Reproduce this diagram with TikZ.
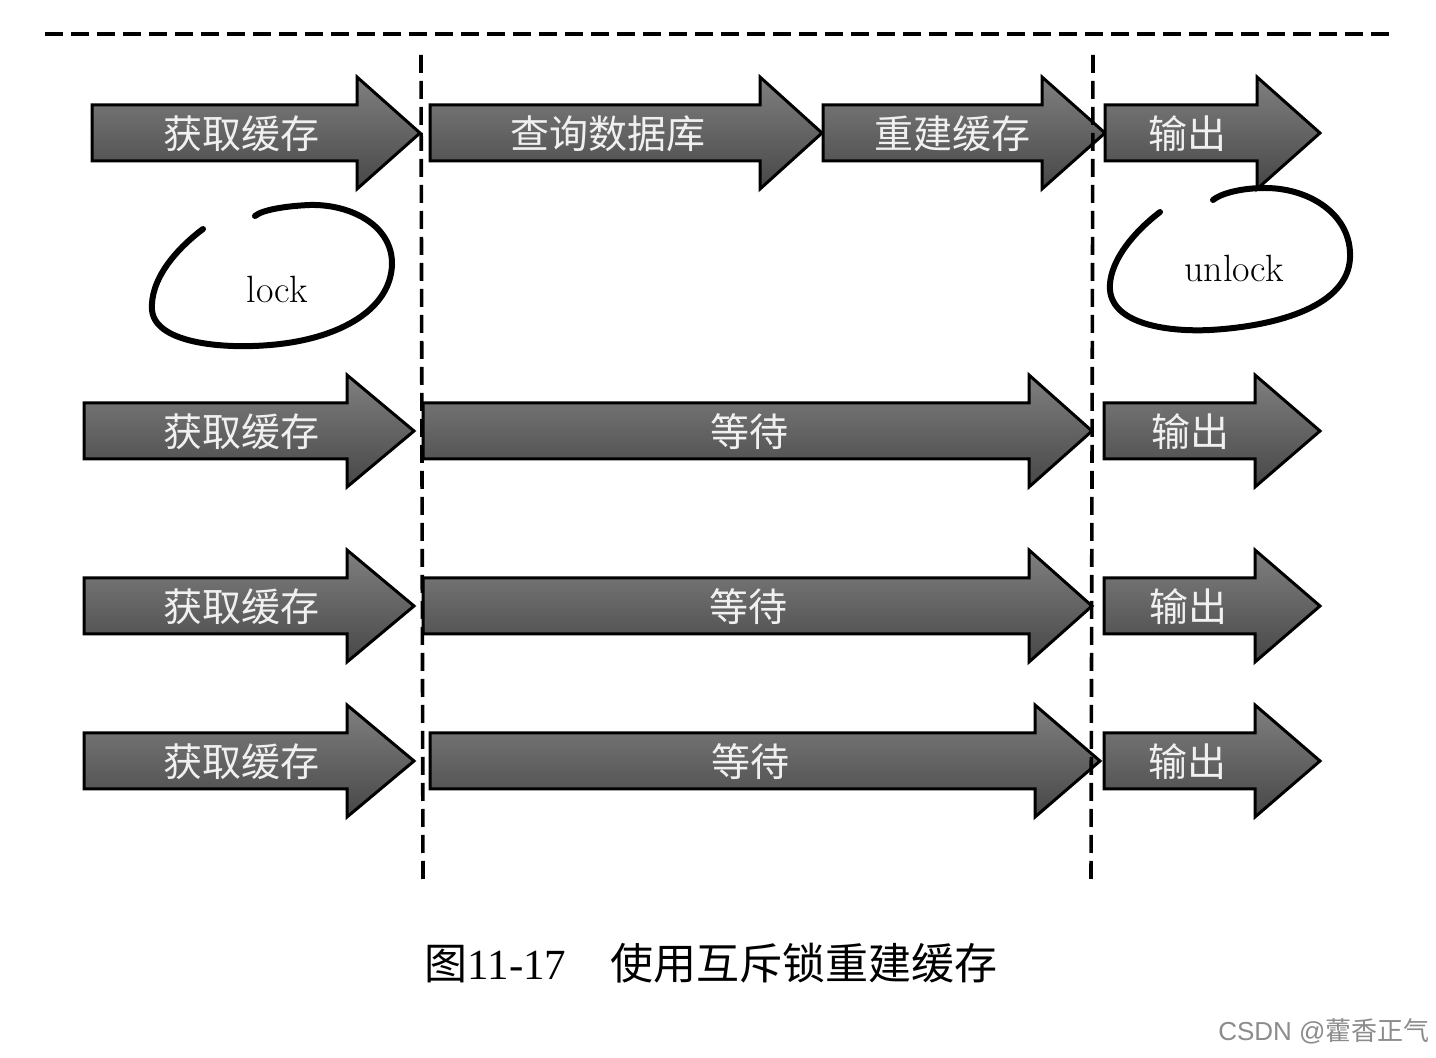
\documentclass[tikz,border=0pt]{standalone}
\usepackage{fontspec}
\newfontfamily\cjk{Noto Sans CJK SC}
\newfontfamily\arialfont{Liberation Sans}
\newfontfamily\tnrfont{Liberation Serif}
\newcommand\myarrow[7]{%
  \path[arrowbody] (#1,#4-28) -- (#2,#4-28) -- (#2,#4-56) -- (#3,#4) -- (#2,#4+56) -- (#2,#4+28) -- (#1,#4+28) -- cycle;
  \node[arrowlabel] (#5) at (#6,#4+1) {#7};}
\begin{document}
\begin{tikzpicture}[x=0.5pt,y=-0.5pt,
  arrowbody/.style={draw=black, line width=1.5pt, line join=miter, top color=black!50, bottom color=black!72},
  arrowlabel/.style={text=white!94!black, font=\cjk\fontsize{19.5pt}{20pt}\selectfont, inner sep=0pt},
  divider/.style={line width=1.8pt, dash pattern=on 9pt off 4pt},
  loopstroke/.style={line width=3pt, line cap=round}]
\useasboundingbox (0,0) rectangle (1436,1058);
\fill[white] (0,0) rectangle (1436,1058);

% row 1
\myarrow{92}{357}{420}{133}{a1}{241}{获取缓存}
\myarrow{430}{760}{822}{133}{a2}{608}{查询数据库}
\myarrow{823}{1042}{1105}{133}{a3}{952}{重建缓存}
\myarrow{1105}{1257}{1320}{133}{a4}{1187}{输出}
% row 2
\myarrow{84}{347}{414}{431}{b1}{241}{获取缓存}
\myarrow{423}{1029}{1092}{431}{b2}{749}{等待}
\myarrow{1104}{1255}{1320}{431}{b3}{1190}{输出}
% row 3
\myarrow{84}{347}{414}{606}{c1}{241}{获取缓存}
\myarrow{423}{1029}{1092}{606}{c2}{748}{等待}
\myarrow{1104}{1255}{1320}{606}{c3}{1188}{输出}
% row 4
\myarrow{84}{347}{414}{761}{d1}{241}{获取缓存}
\myarrow{430}{1035}{1100}{761}{d2}{750}{等待}
\myarrow{1104}{1255}{1320}{761}{d3}{1187}{输出}

% dashed dividers
\coordinate (h1) at (45,34);
\coordinate (h2) at (1395,34);
\coordinate (v1a) at (421,55);
\coordinate (v1b) at (423,880);
\coordinate (v2a) at (1093,55);
\coordinate (v2b) at (1091,880);
\draw[divider] (h1) -- (h2);
\draw[divider] (v1a) -- (v1b);
\draw[divider] (v2a) -- (v2b);

% lock loop
\draw[loopstroke] (203,229) .. controls (175,250) and (150,280) .. (152,310)
  .. controls (155,345) and (230,350) .. (280,344)
  .. controls (340,337) and (390,310) .. (392,265)
  .. controls (393,225) and (350,204) .. (310,205)
  .. controls (285,206) and (262,210) .. (255,216);
\node[font=\fontsize{19pt}{20pt}\selectfont, inner sep=0pt] (lock) at (277,289) {lock};

% unlock loop
\draw[loopstroke] (1160,212) .. controls (1130,235) and (1108,265) .. (1110,290)
  .. controls (1113,325) and (1170,332) .. (1210,330)
  .. controls (1280,326) and (1348,305) .. (1350,258)
  .. controls (1352,215) and (1310,188) .. (1265,188)
  .. controls (1240,188) and (1220,194) .. (1213,200);
\node[font=\fontsize{19pt}{20pt}\selectfont, inner sep=0pt] (unlock) at (1234,268) {unlock};

% caption
\node[inner sep=0pt, font=\fontsize{21.5pt}{24pt}\selectfont] (caption) at (711,963)
  {{\cjk 图}{\tnrfont 11-17}\hspace{22pt}{\cjk 使用互斥锁重建缓存}};

% watermark
\node[anchor=east, inner sep=0pt, text=black!45, font=\fontsize{13pt}{14pt}\selectfont] (wm) at (1430,1031)
  {{\arialfont CSDN @}{\cjk 藿香正气}};
\end{tikzpicture}
\end{document}
